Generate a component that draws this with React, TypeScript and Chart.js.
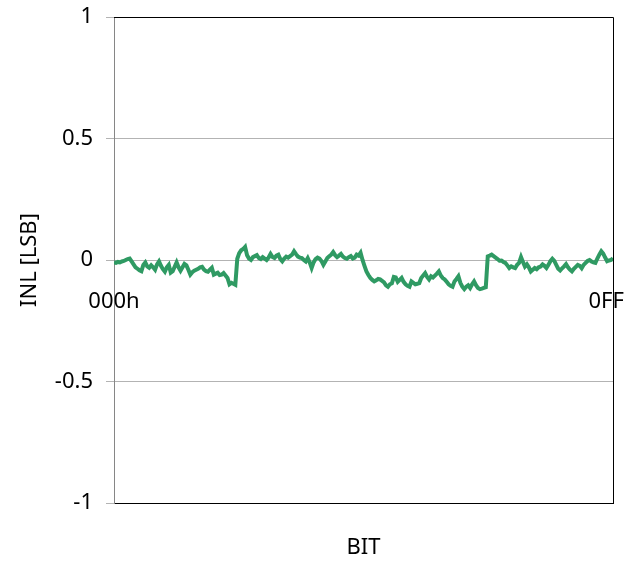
import React, { useEffect, useRef } from "react";
import { Chart, registerables } from "chart.js";

Chart.register(...registerables);

const bits: number[] = Array.from({ length: 256 }, (_, i) => i);

const inl: number[] = [
  -0.010, -0.012, -0.008, -0.010, -0.006, -0.004, 0.000, 0.004, 0.006, -0.006, -0.018, -0.030, -0.036, -0.042, -0.046, -0.020,
  -0.010, -0.026, -0.032, -0.022, -0.030, -0.040, -0.018, -0.006, -0.024, -0.038, -0.048, -0.030, -0.020, -0.052, -0.046, -0.028,
  -0.010, -0.030, -0.044, -0.030, -0.016, -0.022, -0.040, -0.060, -0.050, -0.044, -0.040, -0.036, -0.030, -0.028, -0.040, -0.046,
  -0.048, -0.040, -0.032, -0.060, -0.056, -0.052, -0.062, -0.060, -0.054, -0.064, -0.074, -0.100, -0.094, -0.098, -0.102, 0.005,
  0.028, 0.040, 0.045, 0.054, 0.020, 0.006, 0.000, 0.012, 0.016, 0.020, 0.008, 0.004, 0.012, 0.006, 0.000, 0.010,
  0.025, 0.012, 0.008, 0.018, 0.022, 0.004, -0.005, 0.006, 0.014, 0.010, 0.016, 0.022, 0.036, 0.024, 0.014, 0.010,
  0.008, 0.000, -0.006, 0.008, -0.010, -0.033, -0.010, 0.004, 0.010, 0.006, -0.004, -0.020, -0.006, 0.008, 0.015, 0.022,
  0.033, 0.020, 0.012, 0.018, 0.025, 0.014, 0.008, 0.005, 0.012, 0.016, 0.006, 0.010, 0.022, 0.018, 0.030, 0.000,
  -0.024, -0.047, -0.062, -0.074, -0.082, -0.088, -0.084, -0.078, -0.080, -0.086, -0.092, -0.104, -0.110, -0.100, -0.096, -0.070,
  -0.072, -0.090, -0.082, -0.074, -0.090, -0.100, -0.106, -0.110, -0.088, -0.094, -0.100, -0.098, -0.095, -0.074, -0.064, -0.054,
  -0.070, -0.080, -0.067, -0.072, -0.064, -0.056, -0.047, -0.064, -0.074, -0.080, -0.090, -0.100, -0.106, -0.110, -0.088, -0.078,
  -0.067, -0.094, -0.110, -0.120, -0.110, -0.104, -0.115, -0.100, -0.088, -0.104, -0.115, -0.120, -0.118, -0.115, -0.112, 0.015,
  0.018, 0.022, 0.016, 0.010, 0.004, -0.003, -0.002, -0.008, -0.012, -0.022, -0.033, -0.026, -0.030, -0.033, -0.020, -0.012,
  0.012, -0.008, -0.027, -0.018, -0.030, -0.047, -0.040, -0.033, -0.038, -0.030, -0.027, -0.018, -0.024, -0.033, -0.020, -0.005,
  0.005, -0.004, -0.020, -0.036, -0.043, -0.034, -0.026, -0.017, -0.030, -0.040, -0.047, -0.036, -0.028, -0.020, -0.024, -0.034,
  -0.020, -0.012, -0.004, 0.000, -0.006, -0.010, -0.012, 0.006, 0.022, 0.036, 0.026, 0.010, -0.005, -0.002, 0.000, 0.007,
];

const yTickValues: number[] = [-1, -0.5, 0, 0.5, 1];
const yTickLabels: string[] = ["-1", "-0.5", "0", "0.5", "1"];
const xEndValues: number[] = [0, 255];
const xEndLabels: string[] = ["000h", "0FFh"];

const FONT = '"Noto Sans", "Open Sans", sans-serif';

const xEndLabelPlugin = {
  id: "xEndLabels",
  afterDraw(chart: any) {
    const ctx = chart.ctx;
    const xs = chart.scales.x;
    const ys = chart.scales.y;
    const { chartArea } = chart;
    ctx.save();
    ctx.strokeStyle = "#000000";
    ctx.lineWidth = 1;
    ctx.beginPath();
    ctx.moveTo(chartArea.left, chartArea.top + 0.5);
    ctx.lineTo(chartArea.right + 0.5, chartArea.top + 0.5);
    ctx.lineTo(chartArea.right + 0.5, chartArea.bottom);
    ctx.stroke();
    ctx.fillStyle = "#000000";
    ctx.font = `22px ${FONT}`;
    ctx.textAlign = "center";
    ctx.textBaseline = "alphabetic";
    const y0 = ys.getPixelForValue(0);
    xEndValues.forEach((v, i) => {
      ctx.fillText(xEndLabels[i], xs.getPixelForValue(v), y0 + 48);
    });
    ctx.restore();
  },
};

export default function App() {
  const ref = useRef<HTMLCanvasElement | null>(null);

  useEffect(() => {
    if (!ref.current) return;
    const chart = new Chart(ref.current, {
      type: "line",
      data: {
        datasets: [
          {
            data: bits.map((b, i) => ({ x: b, y: inl[i] })),
            borderColor: "#2f9a63",
            borderWidth: 4,
            pointRadius: 0,
            tension: 0,
            fill: false,
          },
        ],
      },
      options: {
        animation: false,
        responsive: false,
        devicePixelRatio: 1,
        layout: { padding: { top: 17, right: 12, left: 0, bottom: 0 } },
        plugins: {
          legend: { display: false },
          tooltip: { enabled: false },
        },
        scales: {
          x: {
            type: "linear",
            min: 0,
            max: 255,
            grid: { display: false },
            border: { display: true, color: "#000000", width: 1 },
            ticks: { display: false },
            title: {
              display: true,
              text: "BIT",
              color: "#000000",
              font: { family: FONT, size: 22 },
              padding: { top: 0, bottom: 1 },
            },
            afterFit: (s: any) => {
              s.height = 59;
              s.paddingLeft = 0;
              s.paddingRight = 0;
            },
          },
          y: {
            type: "linear",
            min: -1,
            max: 1,
            afterBuildTicks: (s: any) => {
              s.ticks = yTickValues.map((v) => ({ value: v }));
            },
            ticks: {
              color: "#000000",
              font: { family: FONT, size: 22 },
              padding: 13,
              callback: (v: any) => {
                const idx = yTickValues.indexOf(Number(v));
                return idx >= 0 ? yTickLabels[idx] : "";
              },
            },
            grid: {
              color: "#b3b3b3",
              lineWidth: 1,
              drawTicks: true,
              tickLength: 8,
            },
            border: { display: true, color: "#868686", width: 1 },
            title: {
              display: true,
              text: "INL [LSB]",
              color: "#000000",
              font: { family: FONT, size: 22 },
              padding: { top: 17, bottom: 0 },
            },
            afterFit: (s: any) => {
              s.width = 114;
              s.paddingTop = 0;
              s.paddingBottom = 0;
            },
          },
        },
      },
      plugins: [xEndLabelPlugin],
    });
    return () => chart.destroy();
  }, []);

  return (
    <div style={{ position: "fixed", left: 0, top: 0 }}>
      <canvas ref={ref} width={625} height={562} style={{ display: "block" }} />
    </div>
  );
}
